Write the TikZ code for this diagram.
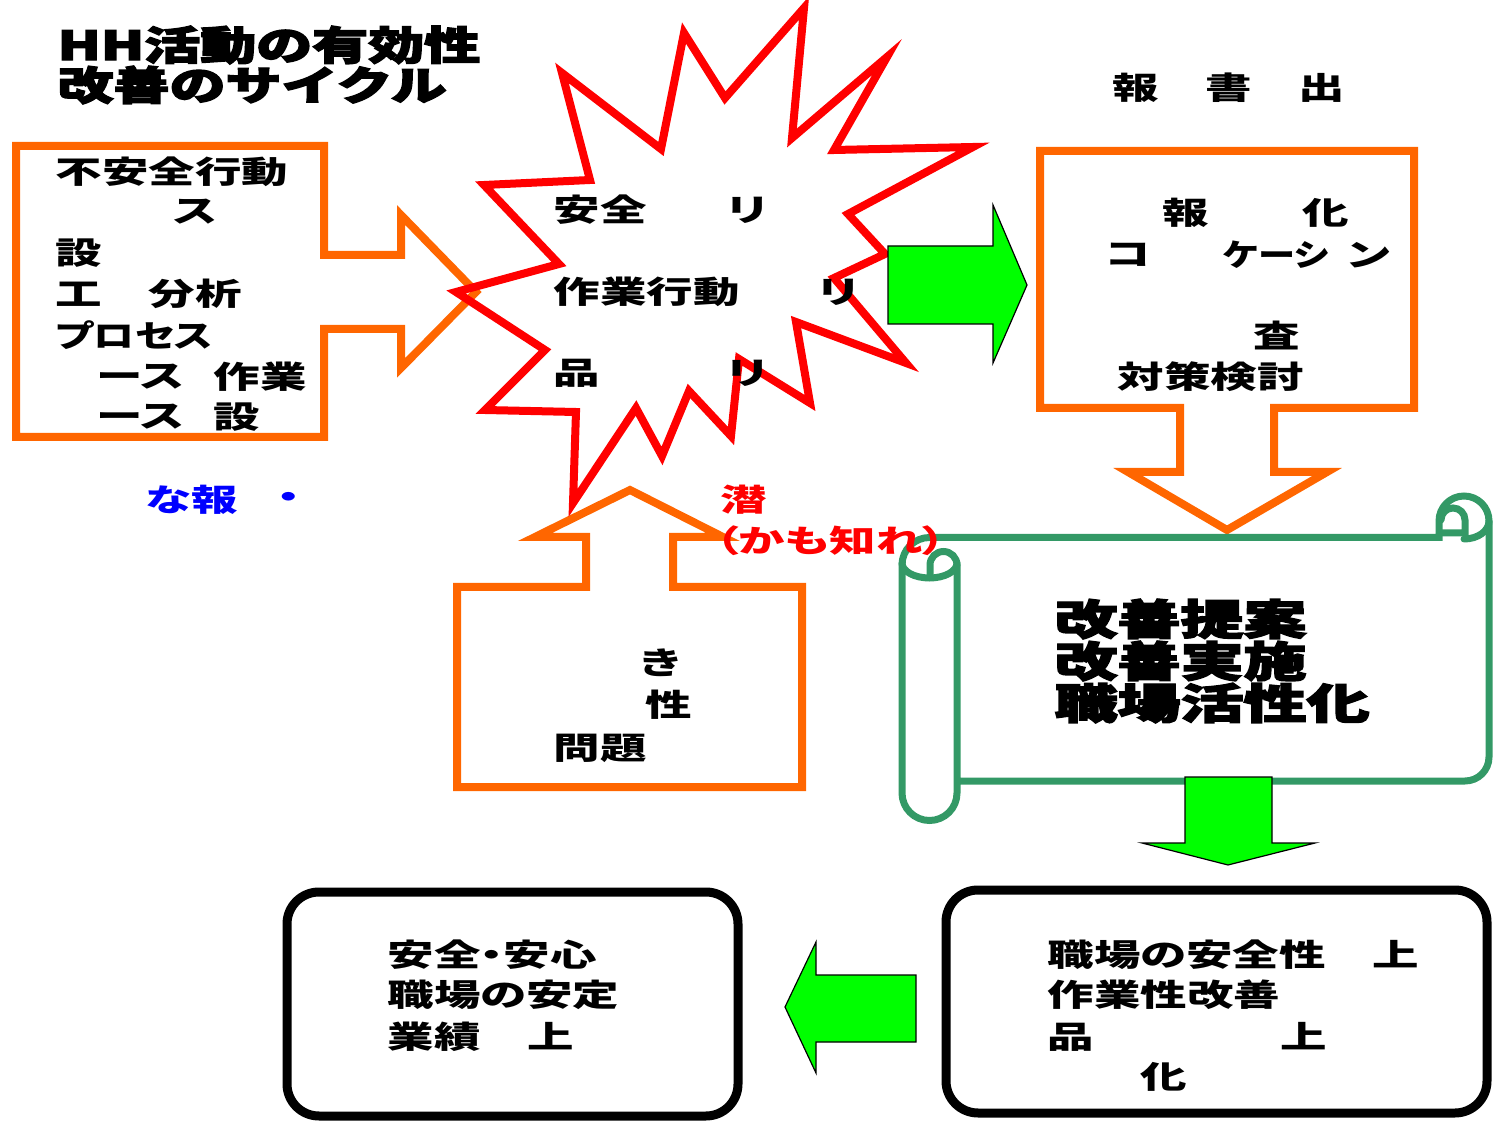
\documentclass[tikz,border=0pt]{standalone}
\usepackage{fontspec}
\newfontfamily\jpfont{Noto Sans CJK JP}[RawFeature=+palt]
\newfontfamily\jpheavy{Noto Sans CJK JP}[BoldFeatures={FakeBold=3}]
\definecolor{hhorange}{HTML}{FF6600}
\definecolor{hhred}{HTML}{FF0000}
\definecolor{hhgreen}{HTML}{00FF00}
\definecolor{hhscroll}{HTML}{339966}
\definecolor{hhblue}{HTML}{0000FF}

\begin{document}
\begin{tikzpicture}[x=0.5pt,y=-0.5pt,
	orng/.style={draw=hhorange,line width=4pt,line join=miter},
	burst/.style={draw=hhred,line width=4pt,line join=miter},
	garrow/.style={fill=hhgreen,draw=black,line width=0.6pt},
	scrl/.style={draw=hhscroll,line width=3.5pt,line cap=round},
	rbox/.style={draw=black,line width=4.5pt,rounded corners=16pt},
	jtxt/.style={anchor=west,inner sep=0pt,xscale=1.5,
		font=\jpfont\bfseries\fontsize{15.5pt}{18pt}\selectfont},
	ttl/.style={anchor=west,inner sep=0pt,xscale=1.4,
		font=\jpheavy\bfseries\fontsize{20pt}{20pt}\selectfont},
	bigt/.style={anchor=west,inner sep=0pt,xscale=1.5,
		font=\jpheavy\bfseries\fontsize{21pt}{21pt}\selectfont}]
	\useasboundingbox (0,0) rectangle (1494,1122);
	\draw [orng] (16,146)--(324,146)--(324,255)--(401,255)--(401,215)--(476,292)
		--(401,368)--(401,329)--(324,329)--(324,437)--(16,437)--cycle;
	\draw [orng] (1040,151)--(1414,151)--(1414,408)--(1274,408)--(1274,472)--(1327,472)
		--(1227,530)--(1128,472)--(1180,472)--(1180,408)--(1040,408)--cycle;
	\draw [orng] (457,587)--(586,587)--(586,537)--(535,537)--(630,490)--(723,537)
		--(673,537)--(673,587)--(802,587)--(802,787)--(457,787)--cycle;
	\draw [burst] (456,292)--(559,264)--(484,185)--(590,180)--(562,73)--(661,149)
		--(684,33)--(725,98)--(804,8)--(792,138)--(887,57)--(834,150)--(973,147)
		--(848,214)--(885,254)--(834,278)--(906,363)--(796,322)--(810,403)--(739,359)
		--(731,436)--(689,391)--(662,456)--(636,408)--(573,503)--(576,412)--(485,410)
		--(545,350)--cycle;
	\draw [garrow] (888,246)--(993,246)--(993,205)--(1027,285)--(993,363)--(993,324)--(888,324)--cycle;
	\draw [scrl] (957,565)--(957,793) arc (0:180:27.5)--(902,565) arc (180:270:27.5)
		--(1439,537.5)--(1439,521) arc (180:360:25)--(1489,757) arc (0:90:24)--(957,781);
	\draw [scrl] (902,563) arc (180:0:27.5 and 15);
	\draw [scrl] (957,565) arc (0:-180:13.5)--(930,577);
	\draw [scrl] (1489,521) arc (0:90:25 and 18);
	\draw [scrl] (1441,533)--(1465,533)--(1465,520) arc (0:-180:12);
	\draw [garrow] (1185,777)--(1272,777)--(1272,843)--(1315,843)--(1228,865)--(1142,843)--(1185,843)--cycle;
	\draw [garrow] (916,975)--(816,975)--(816,942)--(785,1007)--(816,1073)--(816,1042)--(916,1042)--cycle;
	\draw [rbox] (287,892) rectangle (738,1116);
	\draw [rbox] (946,890) rectangle (1487,1113);
	\node [ttl] (t1) at (57,45) {HH活動の有効性};
	\node [ttl] (t2) at (57,85) {改善のサイクル};
	\node [jtxt] (a1) at (55,172) {不安全行動};
	\node [jtxt] (a2) at (173,212) {ス};
	\node [jtxt] (a3) at (55,253) {設};
	\node [jtxt] (a4) at (55,294) {工　分析};
	\node [jtxt,xscale=0.88] (a5) at (55,335) {プロセス};
	\node [jtxt] (a6) at (97,377) {ース};
	\node [jtxt] (a7) at (213,377) {作業};
	\node [jtxt] (a8) at (97,417) {ース};
	\node [jtxt] (a9) at (213,417) {設};
	\node [jtxt] (b1) at (553,210) {安全};
	\node [jtxt] (b2) at (727,210) {リ};
	\node [jtxt] (b3) at (553,292) {作業行動};
	\node [jtxt] (b4) at (818,292) {リ};
	\node [jtxt] (b5) at (553,373) {品};
	\node [jtxt] (b6) at (727,373) {リ};
	\node [jtxt] (c1) at (1112,88) {報　書　出};
	\node [jtxt] (d1) at (1162,213) {報　　化};
	\node [jtxt] (d2) at (1105,255) {コ};
	\node [jtxt,xscale=0.8] (d3) at (1223,255) {ケーシ};
	\node [jtxt] (d4) at (1347,255) {ン};
	\node [jtxt] (d5) at (1253,335) {査};
	\node [jtxt] (d6) at (1117,377) {対策検討};
	\node [jtxt,text=hhblue] (e1) at (145,500) {な報};
	\node [jtxt,text=hhblue,anchor=center] (e2) at (289,500) {・};
	\node [jtxt,text=hhred] (f1) at (720,500) {潜};
	\node [jtxt,text=hhred] (f2) at (715,541) {（かも知れ）};
	\node [jtxt] (g1) at (640,663) {き};
	\node [jtxt] (g2) at (645,705) {性};
	\node [jtxt] (g3) at (553,748) {問題};
	\node [bigt] (s1) at (1054,619) {改善提案};
	\node [bigt] (s2) at (1054,661) {改善実施};
	\node [bigt] (s3) at (1054,703) {職場活性化};
	\node [jtxt] (h1) at (387,955) {安全・安心};
	\node [jtxt] (h2) at (387,995) {職場の安定};
	\node [jtxt] (h3) at (387,1037) {業績　上};
	\node [jtxt] (k1) at (1047,955) {職場の安全性　上};
	\node [jtxt] (k2) at (1047,995) {作業性改善};
	\node [jtxt] (k3) at (1047,1037) {品　　　　上};
	\node [jtxt] (k4) at (1140,1077) {化};
\end{tikzpicture}
\end{document}
